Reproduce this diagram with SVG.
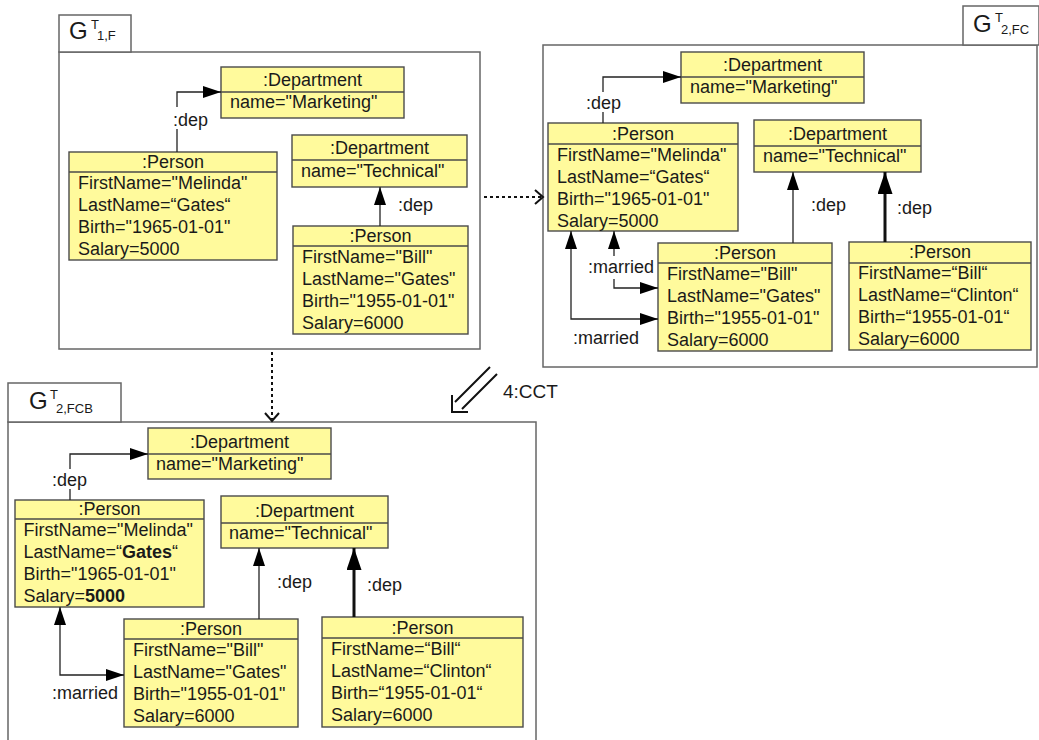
<svg xmlns="http://www.w3.org/2000/svg" width="1039" height="740" viewBox="0 0 1039 740">
<style>
text{font-family:"Liberation Sans",Arial,sans-serif;font-size:18px;fill:#1a1a1a}
.box{fill:#FFFA9C;stroke:#4a4a4a;stroke-width:1.4}
.div{stroke:#4a4a4a;stroke-width:1.4}
.frame{fill:#fff;stroke:#666;stroke-width:1.5}
.hd{text-anchor:middle}
.conn{fill:none;stroke:#222;stroke-width:1.3}
.thick{fill:none;stroke:#111;stroke-width:3}
.dot{fill:none;stroke:#111;stroke-width:2;stroke-dasharray:3 3}
.chev{fill:none;stroke:#111;stroke-width:2}
.big{font-size:24px}
.sub{font-size:13px}
.sup{font-size:13px}
.b{font-weight:bold}
</style>
<defs>
<marker id="ah" viewBox="0 0 18 12" refX="18" refY="6" markerWidth="18" markerHeight="12" markerUnits="userSpaceOnUse" orient="auto-start-reverse"><path d="M0,0 L18,6 L0,12 z" fill="#000"/></marker>
<marker id="ahb" viewBox="0 0 22 15" refX="22" refY="7.5" markerWidth="22" markerHeight="15" markerUnits="userSpaceOnUse" orient="auto-start-reverse"><path d="M0,0 L22,7.5 L0,15 z" fill="#000"/></marker>
</defs>

<!-- Frames -->
<g id="frame1">
<rect class="frame" x="59" y="52" width="421" height="297"/>
<rect class="frame" x="59" y="15" width="72" height="37"/>
<text x="69" y="39" class="big">G</text><text x="91" y="29" class="sup">T</text><text x="97" y="40" class="sub">1,F</text>
</g>
<g id="frame2">
<rect class="frame" x="543" y="45" width="494" height="322"/>
<rect class="frame" x="963" y="6" width="76" height="39"/>
<text x="973" y="32" class="big">G</text><text x="995" y="22" class="sup">T</text><text x="1001" y="34" class="sub">2,FC</text>
</g>
<g id="frame3">
<rect class="frame" x="8" y="422" width="528" height="330"/>
<rect class="frame" x="8" y="383" width="113" height="39"/>
<text x="29" y="409" class="big">G</text><text x="50" y="399" class="sup">T</text><text x="56" y="413" class="sub">2,FCB</text>
</g>

<!-- Frame 1 nodes -->
<g id="f1-dept-marketing">
<rect class="box" x="221" y="67" width="183" height="51"/><line class="div" x1="221" y1="92" x2="404" y2="92"/>
<text class="hd" x="312.5" y="86">:Department</text><text x="230" y="108">name="Marketing"</text>
</g>
<g id="f1-person-melinda">
<rect class="box" x="69" y="152" width="208" height="108"/><line class="div" x1="69" y1="172" x2="277" y2="172"/>
<text class="hd" x="173" y="168">:Person</text>
<text x="78" y="189">FirstName="Melinda"</text><text x="78" y="211">LastName=“Gates“</text><text x="78" y="233">Birth="1965-01-01"</text><text x="78" y="255">Salary=5000</text>
</g>
<g id="f1-dept-technical">
<rect class="box" x="292" y="135" width="175" height="52"/><line class="div" x1="292" y1="160" x2="467" y2="160"/>
<text class="hd" x="379.5" y="154">:Department</text><text x="301" y="177">name="Technical"</text>
</g>
<g id="f1-person-bill">
<rect class="box" x="293" y="226" width="175" height="108"/><line class="div" x1="293" y1="246" x2="468" y2="246"/>
<text class="hd" x="380.5" y="242">:Person</text>
<text x="302" y="263">FirstName="Bill"</text><text x="302" y="285">LastName="Gates"</text><text x="302" y="307">Birth="1955-01-01"</text><text x="302" y="329">Salary=6000</text>
</g>

<!-- Frame 2 nodes -->
<g id="f2-dept-marketing">
<rect class="box" x="681" y="52" width="183" height="51"/><line class="div" x1="681" y1="77" x2="864" y2="77"/>
<text class="hd" x="772.5" y="71">:Department</text><text x="690" y="93">name="Marketing"</text>
</g>
<g id="f2-person-melinda">
<rect class="box" x="548" y="123" width="190" height="108"/><line class="div" x1="548" y1="144" x2="738" y2="144"/>
<text class="hd" x="643" y="140">:Person</text>
<text x="557" y="161">FirstName="Melinda"</text><text x="557" y="183">LastName=“Gates“</text><text x="557" y="205">Birth="1965-01-01"</text><text x="557" y="227">Salary=5000</text>
</g>
<g id="f2-dept-technical">
<rect class="box" x="754" y="120" width="167" height="52"/><line class="div" x1="754" y1="146" x2="921" y2="146"/>
<text class="hd" x="837.5" y="140">:Department</text><text x="763" y="162">name="Technical"</text>
</g>
<g id="f2-person-bill-gates">
<rect class="box" x="658" y="243" width="174" height="108"/><line class="div" x1="658" y1="263" x2="832" y2="263"/>
<text class="hd" x="745" y="259">:Person</text>
<text x="667" y="280">FirstName="Bill"</text><text x="667" y="302">LastName="Gates"</text><text x="667" y="324">Birth="1955-01-01"</text><text x="667" y="346">Salary=6000</text>
</g>
<g id="f2-person-bill-clinton">
<rect class="box" x="849" y="242" width="182" height="108"/><line class="div" x1="849" y1="263" x2="1031" y2="263"/>
<text class="hd" x="940" y="258">:Person</text>
<text x="858" y="279">FirstName=“Bill“</text><text x="858" y="301">LastName=“Clinton“</text><text x="858" y="323">Birth=“1955-01-01“</text><text x="858" y="345">Salary=6000</text>
</g>

<!-- Frame 3 nodes -->
<g id="f3-dept-marketing">
<rect class="box" x="148" y="428" width="183" height="51"/><line class="div" x1="148" y1="454" x2="331" y2="454"/>
<text class="hd" x="239.5" y="448">:Department</text><text x="156" y="470">name="Marketing"</text>
</g>
<g id="f3-person-melinda">
<rect class="box" x="15" y="500" width="189" height="107"/><line class="div" x1="15" y1="519" x2="204" y2="519"/>
<text class="hd" x="109.5" y="515">:Person</text>
<text x="23.5" y="536">FirstName="Melinda"</text><text x="23.5" y="558">LastName=“<tspan class="b">Gates</tspan>“</text><text x="23.5" y="580">Birth="1965-01-01"</text><text x="23.5" y="602">Salary=<tspan class="b">5000</tspan></text>
</g>
<g id="f3-dept-technical">
<rect class="box" x="221" y="496" width="167" height="52"/><line class="div" x1="221" y1="523" x2="388" y2="523"/>
<text class="hd" x="304.5" y="517">:Department</text><text x="229" y="539">name="Technical"</text>
</g>
<g id="f3-person-bill-gates">
<rect class="box" x="124" y="619" width="174" height="108"/><line class="div" x1="124" y1="639" x2="298" y2="639"/>
<text class="hd" x="211" y="635">:Person</text>
<text x="133" y="656">FirstName="Bill"</text><text x="133" y="678">LastName="Gates"</text><text x="133" y="700">Birth="1955-01-01"</text><text x="133" y="722">Salary=6000</text>
</g>
<g id="f3-person-bill-clinton">
<rect class="box" x="322" y="617" width="201" height="110"/><line class="div" x1="322" y1="638" x2="523" y2="638"/>
<text class="hd" x="422.5" y="634">:Person</text>
<text x="331" y="655">FirstName=“Bill“</text><text x="331" y="677">LastName=“Clinton“</text><text x="331" y="699">Birth=“1955-01-01“</text><text x="331" y="721">Salary=6000</text>
</g>

<!-- Connectors -->
<g id="connectors">
<!-- frame 1 -->
<path class="conn" d="M177,152 L177,129 M177,107 L177,92 L221,92" marker-end="url(#ah)"/>
<text x="173" y="126">:dep</text>
<path class="conn" d="M380,226 L380,187" marker-end="url(#ah)"/>
<text x="398" y="211">:dep</text>
<!-- frame 2 -->
<path class="conn" d="M603,123 L603,112 M603,92 L603,77 L681,77" marker-end="url(#ah)"/>
<text x="586" y="109">:dep</text>
<path class="conn" d="M793,243 L793,172" marker-end="url(#ah)"/>
<text x="811" y="211">:dep</text>
<path class="thick" d="M885,242 L885,172" marker-end="url(#ahb)"/>
<text x="897" y="214">:dep</text>
<path class="conn" d="M614,256 L614,231" marker-end="url(#ah)"/>
<path class="conn" d="M614,279 L614,288 L658,288" marker-end="url(#ah)"/>
<text x="588" y="273">:married</text>
<path class="conn" d="M571,231 L571,319 L658,319" marker-start="url(#ah)" marker-end="url(#ah)"/>
<text x="573" y="344">:married</text>
<!-- frame 3 -->
<path class="conn" d="M70,500 L70,489 M70,469 L70,454 L148,454" marker-end="url(#ah)"/>
<text x="52" y="486">:dep</text>
<path class="conn" d="M259,619 L259,548" marker-end="url(#ah)"/>
<text x="277" y="588">:dep</text>
<path class="thick" d="M354,617 L354,548" marker-end="url(#ahb)"/>
<text x="367" y="591">:dep</text>
<path class="conn" d="M60,607 L60,675 L124,675" marker-start="url(#ah)" marker-end="url(#ah)"/>
<text x="52" y="699">:married</text>
<!-- between frames -->
<path class="dot" d="M484,197 L542,197"/>
<path class="chev" d="M535,190 L543,197 L535,204"/>
<path class="dot" d="M272,352 L272,419"/>
<path class="chev" d="M265,413 L272,421 L279,413"/>
<path class="chev" d="M490,367 L455,402 M497,374 L462,409"/>
<path class="chev" d="M452,395 L452,412 L468,412"/>
<text x="503" y="398" style="font-size:19px">4:CCT</text>
</g>
</svg>
